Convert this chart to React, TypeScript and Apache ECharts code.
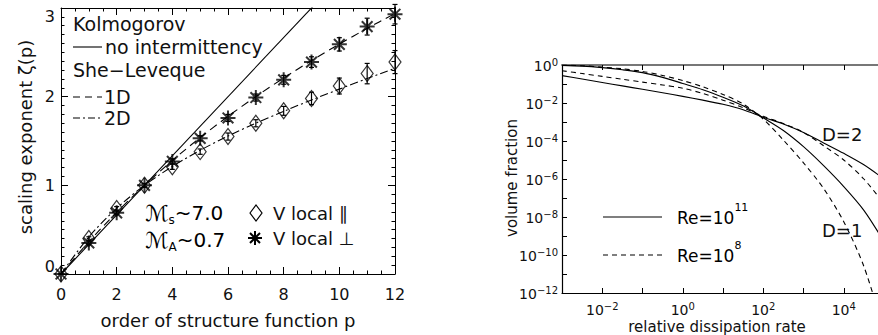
import { useEffect, useRef } from 'react';
import * as echarts from 'echarts';

// ---------- left panel data ----------
const orders = [0, 1, 2, 3, 4, 5, 6, 7, 8, 9, 10, 11, 12];
const zetaPerp = [0, 0.35, 0.69, 1.0, 1.27, 1.53, 1.76, 1.99, 2.19, 2.39, 2.59, 2.79, 2.93];
const errPerp = [0, 0.02, 0.02, 0.02, 0.03, 0.03, 0.04, 0.04, 0.05, 0.06, 0.075, 0.095, 0.11];
const zetaPar = [0, 0.4, 0.74, 1.0, 1.21, 1.38, 1.55, 1.7, 1.84, 1.98, 2.12, 2.26, 2.39];
const errPar = [0, 0.02, 0.02, 0.02, 0.03, 0.03, 0.04, 0.04, 0.05, 0.07, 0.09, 0.115, 0.13];
const kolmogorovP = [0, 12];
const kolmogorovZeta = [0, 4];
const sheLeveque1D = [0, 0.364, 0.696, 1.0, 1.28, 1.538, 1.778, 2.001, 2.21, 2.407, 2.593, 2.77, 2.938];
const sheLeveque2D = [0, 0.418, 0.741, 1.0, 1.213, 1.395, 1.556, 1.701, 1.835, 1.963, 2.085, 2.204, 2.321];

// ---------- right panel data (log10 values) ----------
const logRate = [-3, -2.5, -2, -1.5, -1, -0.5, 0, 0.5, 1, 1.5, 2, 2.5, 3, 3.5, 4, 4.5, 5];
const logVolD1Re11 = [-0.02, -0.06, -0.14, -0.25, -0.4, -0.65, -0.97, -1.3, -1.7, -2.15, -2.78, -3.45, -4.3, -5.3, -6.4, -7.65, -9.3];
const logVolD1Re8 = [0, -0.04, -0.11, -0.2, -0.34, -0.55, -0.82, -1.15, -1.55, -2.05, -2.85, -3.95, -5.15, -6.5, -8.25, -10.6, -14];
const logVolD2Re11 = [-0.56, -0.74, -0.92, -1.1, -1.28, -1.46, -1.65, -1.85, -2.07, -2.35, -2.75, -3.1, -3.55, -4.1, -4.65, -5.25, -6.0];
const logVolD2Re8 = [-0.3, -0.45, -0.6, -0.75, -0.9, -1.05, -1.22, -1.5, -1.85, -2.25, -2.7, -3.08, -3.55, -4.25, -5.0, -6.0, -7.3];

const FONT = '"DejaVu Sans", sans-serif';
const INK = '#111';

const ASTERISK = 'path://M7 0 L7 14 M0 7 L14 7 M2 2 L12 12 M2 12 L12 2';

function supLabel(e: number) {
  const s = e < 0 ? '\u2212' + -e : String(e);
  return `{b|10}{s|${s}}`;
}

function errorBarSeries(values: number[], errs: number[]) {
  return {
    type: 'custom',
    xAxisIndex: 0,
    yAxisIndex: 0,
    data: orders.map((p, i) => [p, values[i] - errs[i], values[i] + errs[i]]),
    renderItem: (_params: any, api: any) => {
      const lo = api.coord([api.value(0), api.value(1)]);
      const hi = api.coord([api.value(0), api.value(2)]);
      const w = 2.5;
      const st = { stroke: '#000', lineWidth: 1.2 };
      return {
        type: 'group',
        children: [
          { type: 'line', shape: { x1: lo[0], y1: lo[1], x2: hi[0], y2: hi[1] }, style: st },
          { type: 'line', shape: { x1: lo[0] - w, y1: lo[1], x2: lo[0] + w, y2: lo[1] }, style: st },
          { type: 'line', shape: { x1: hi[0] - w, y1: hi[1], x2: hi[0] + w, y2: hi[1] }, style: st },
        ],
      };
    },
    z: 3,
  };
}

function logCurve(ys: number[], dashed: boolean) {
  return {
    type: 'line',
    xAxisIndex: 2,
    yAxisIndex: 2,
    data: logRate.map((x, i) => [Math.pow(10, x), Math.pow(10, ys[i])]),
    showSymbol: false,
    symbol: 'none',
    smooth: 0.3,
    clip: true,
    lineStyle: { color: '#000', width: 1.1, type: dashed ? [5, 4] : 'solid' },
  };
}

const txt = (x: number, y: number, text: string, size: number, extra: any = {}, rotation = 0) => ({
  type: 'text',
  x,
  y,
  rotation,
  style: {
    text,
    fill: INK,
    font: `${size}px ${FONT}`,
    align: 'left',
    verticalAlign: 'middle',
    ...extra,
  },
});

const ln = (x1: number, y1: number, x2: number, y2: number, dash?: number[]) => ({
  type: 'line',
  shape: { x1, y1, x2, y2 },
  style: { stroke: '#000', lineWidth: 1.1, lineDash: dash },
});

const machRich = {
  m: { fontSize: 22, fontFamily: FONT, color: INK, lineHeight: 26, verticalAlign: 'middle' },
  sub: { fontSize: 12, fontFamily: FONT, color: INK, lineHeight: 26, verticalAlign: 'bottom' },
  t: { fontSize: 20, fontFamily: FONT, color: INK, lineHeight: 26, verticalAlign: 'middle' },
};

const reRich = {
  b: { fontSize: 17, fontFamily: FONT, color: INK, lineHeight: 24, verticalAlign: 'bottom' },
  s: { fontSize: 11, fontFamily: FONT, color: INK, lineHeight: 24, verticalAlign: 'top' },
};

export default function App() {
  const ref = useRef<HTMLDivElement>(null);

  useEffect(() => {
    if (!ref.current) return;
    const chart = echarts.init(ref.current, undefined, { renderer: 'svg' });

    const linAxisBase = {
      type: 'value',
      axisLine: { show: true, onZero: false, lineStyle: { color: '#000', width: 1 } },
      axisTick: { show: true, inside: true, length: 7, lineStyle: { color: '#000' } },
      minorTick: { show: true, length: 3.5, lineStyle: { color: '#000' } },
      splitLine: { show: false },
      minorSplitLine: { show: false },
    };

    const logAxisBase = {
      type: 'log',
      logBase: 10,
      axisLine: { show: true, onZero: false, lineStyle: { color: '#000', width: 1.2 } },
      axisTick: { show: true, inside: true, interval: 0, length: 5, lineStyle: { color: '#000' } },
      splitLine: { show: false },
    };

    const supRich = {
      b: { fontSize: 14, fontFamily: FONT, color: INK, lineHeight: 16, verticalAlign: 'bottom' },
      s: { fontSize: 10, fontFamily: FONT, color: INK, lineHeight: 16, verticalAlign: 'top' },
    };

    const logFormatter = (v: number) => {
      const e = Math.round(Math.log10(v));
      return e % 2 === 0 ? supLabel(e) : '';
    };

    const option: any = {
      animation: false,
      backgroundColor: '#fff',
      textStyle: { fontFamily: FONT },
      grid: [
        { left: 61, top: 8, width: 334, height: 266 },
        { left: 562, top: 65, width: 322, height: 228 },
      ],
      xAxis: [
        {
          ...linAxisBase,
          gridIndex: 0,
          position: 'bottom',
          min: 0,
          max: 12,
          interval: 2,
          minorTick: { ...linAxisBase.minorTick, splitNumber: 4 },
          axisLabel: { margin: 12, fontSize: 16, color: INK, fontFamily: FONT },
        },
        {
          ...linAxisBase,
          gridIndex: 0,
          position: 'top',
          min: 0,
          max: 12,
          interval: 2,
          minorTick: { ...linAxisBase.minorTick, splitNumber: 4 },
          axisLabel: { show: false },
        },
        {
          ...logAxisBase,
          gridIndex: 1,
          position: 'bottom',
          min: 1e-3,
          max: 1e5,
          splitNumber: 8,
          axisLabel: { margin: 8, interval: 0, formatter: logFormatter, rich: supRich },
        },
        {
          ...logAxisBase,
          gridIndex: 1,
          position: 'top',
          min: 1e-3,
          max: 1e5,
          splitNumber: 8,
          axisLine: { show: true, onZero: false, lineStyle: { color: '#777', width: 2 } },
          axisLabel: { show: false },
        },
      ],
      yAxis: [
        {
          ...linAxisBase,
          gridIndex: 0,
          position: 'left',
          min: 0,
          max: 3,
          interval: 1,
          minorTick: { ...linAxisBase.minorTick, splitNumber: 10 },
          axisLabel: {
            margin: 6,
            fontSize: 16,
            color: INK,
            fontFamily: FONT,
            verticalAlignMinLabel: 'bottom',
            verticalAlignMaxLabel: 'top',
          },
        },
        {
          ...linAxisBase,
          gridIndex: 0,
          position: 'right',
          min: 0,
          max: 3,
          interval: 1,
          minorTick: { ...linAxisBase.minorTick, splitNumber: 10 },
          axisLabel: { show: false },
        },
        {
          ...logAxisBase,
          gridIndex: 1,
          position: 'left',
          min: 1e-12,
          max: 1,
          interval: 1,
          splitNumber: 12,
          axisLabel: { margin: 4, interval: 0, formatter: logFormatter, rich: supRich },
        },
      ],
      series: [
        {
          type: 'line',
          xAxisIndex: 0,
          yAxisIndex: 0,
          data: kolmogorovP.map((p, i) => [p, kolmogorovZeta[i]]),
          showSymbol: false,
          symbol: 'none',
          clip: true,
          lineStyle: { color: '#000', width: 1.1 },
        },
        {
          type: 'line',
          xAxisIndex: 0,
          yAxisIndex: 0,
          data: orders.map((p, i) => [p, sheLeveque1D[i]]),
          showSymbol: false,
          symbol: 'none',
          smooth: 0.3,
          clip: true,
          lineStyle: { color: '#000', width: 1.1, type: [8, 5] },
        },
        {
          type: 'line',
          xAxisIndex: 0,
          yAxisIndex: 0,
          data: orders.map((p, i) => [p, sheLeveque2D[i]]),
          showSymbol: false,
          symbol: 'none',
          smooth: 0.3,
          clip: true,
          lineStyle: { color: '#000', width: 1.1, type: [8, 3, 2, 3] },
        },
        errorBarSeries(zetaPar, errPar),
        errorBarSeries(zetaPerp, errPerp),
        {
          type: 'scatter',
          xAxisIndex: 0,
          yAxisIndex: 0,
          data: orders.map((p, i) => [p, zetaPar[i]]),
          symbol: 'diamond',
          symbolSize: [12, 16],
          itemStyle: { color: 'rgba(255,255,255,0)', borderColor: '#000', borderWidth: 1.2 },
          z: 4,
        },
        {
          type: 'scatter',
          xAxisIndex: 0,
          yAxisIndex: 0,
          data: orders.map((p, i) => [p, zetaPerp[i]]),
          symbol: ASTERISK,
          symbolSize: 15,
          itemStyle: { color: 'rgba(0,0,0,0)', borderColor: '#000', borderWidth: 2 },
          z: 4,
        },
        logCurve(logVolD1Re11, false),
        logCurve(logVolD2Re11, false),
        logCurve(logVolD1Re8, true),
        logCurve(logVolD2Re8, true),
      ],
      graphic: [
        // left panel axis titles
        txt(25, 137, 'scaling exponent \u03B6(p)', 18, { align: 'center' }, Math.PI / 2),
        txt(228, 320, 'order of structure function p', 18, { align: 'center' }),
        // left legend
        txt(73, 24, 'Kolmogorov', 19),
        ln(73, 47, 102, 47),
        txt(105, 47, 'no intermittency', 19),
        txt(73, 70, 'She\u2212Leveque', 19),
        ln(73, 97, 102, 97, [7, 5]),
        txt(104, 97, '1D', 19),
        ln(73, 118, 102, 118, [7, 3, 2, 3]),
        txt(104, 118, '2D', 19),
        {
          type: 'text',
          x: 145,
          y: 213,
          style: { text: '{m|\u2133}{sub|s}{t|~7.0}', verticalAlign: 'middle', rich: machRich },
        },
        {
          type: 'text',
          x: 145,
          y: 240,
          style: { text: '{m|\u2133}{sub|A}{t|~0.7}', verticalAlign: 'middle', rich: machRich },
        },
        {
          type: 'polygon',
          shape: { points: [[250, 213], [256, 205], [262, 213], [256, 221]] },
          style: { fill: 'none', stroke: '#000', lineWidth: 1.2 },
        },
        {
          type: 'group',
          children: [
            { type: 'line', shape: { x1: 255, y1: 231, x2: 255, y2: 245 }, style: { stroke: '#000', lineWidth: 2 } },
            { type: 'line', shape: { x1: 248, y1: 238, x2: 262, y2: 238 }, style: { stroke: '#000', lineWidth: 2 } },
            { type: 'line', shape: { x1: 250, y1: 233, x2: 260, y2: 243 }, style: { stroke: '#000', lineWidth: 2 } },
            { type: 'line', shape: { x1: 250, y1: 243, x2: 260, y2: 233 }, style: { stroke: '#000', lineWidth: 2 } },
          ],
        },
        txt(273, 213, 'V local \u2225', 18),
        txt(273, 238, 'V local \u22A5', 18),
        // right panel titles
        txt(512, 178, 'volume fraction', 15, { align: 'center' }, Math.PI / 2),
        txt(717, 327, 'relative dissipation rate', 15, { align: 'center' }),
        // right legend
        ln(603, 217, 662, 217),
        ln(603, 255, 662, 255, [5, 4]),
        { type: 'text', x: 677, y: 214, style: { text: '{b|Re=10}{s|11}', verticalAlign: 'middle', rich: reRich } },
        { type: 'text', x: 677, y: 252, style: { text: '{b|Re=10}{s|8}', verticalAlign: 'middle', rich: reRich } },
        txt(822, 134, 'D=2', 18),
        txt(822, 230, 'D=1', 18),
      ],
    };

    chart.setOption(option);
    return () => chart.dispose();
  }, []);

  return (
    <div
      style={{
        position: 'fixed',
        left: 0,
        top: 0,
        width: 878,
        height: 335,
        overflow: 'hidden',
        background: '#fff',
      }}
    >
      <div ref={ref} style={{ width: 900, height: 335 }} />
    </div>
  );
}
